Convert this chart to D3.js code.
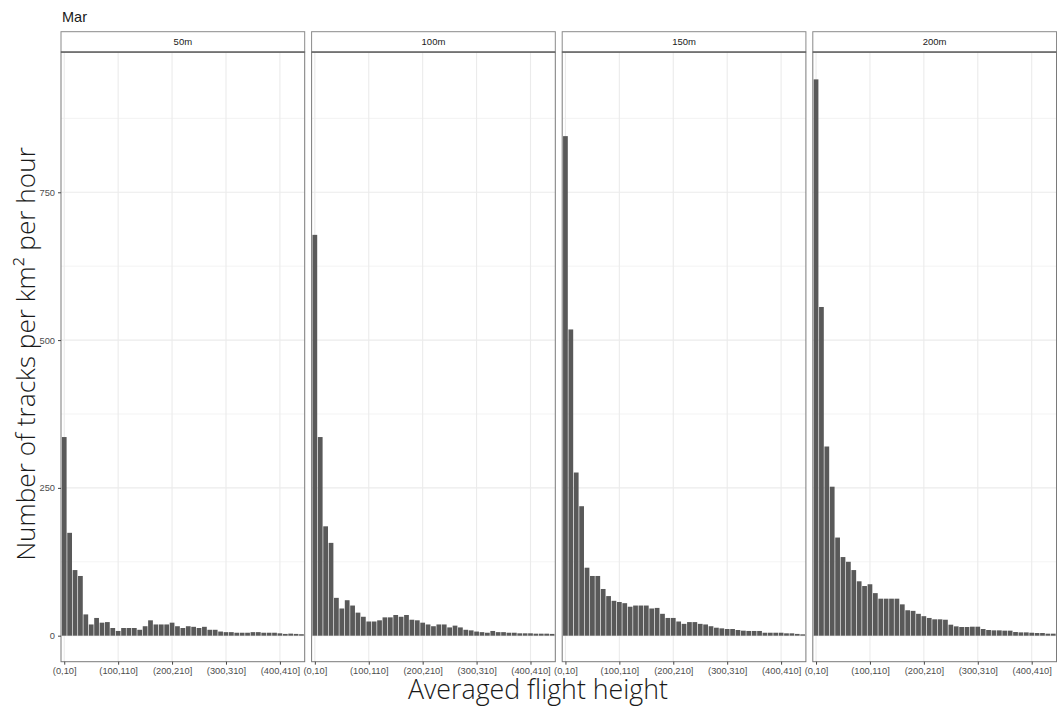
<!DOCTYPE html>
<html>
<head>
<meta charset="utf-8">
<script src="https://cdn.jsdelivr.net/npm/d3@7"></script>
<style>
  html, body { margin: 0; padding: 0; background: #fff; }
  svg { display: block; }
</style>
</head>
<body>
<svg id="chart" width="1057" height="709"></svg>
<script>
// ---------------- data ----------------
const title = "Mar";
const facets = ["50m", "100m", "150m", "200m"];
const categories = [
  "(0,10]","(10,20]","(20,30]","(30,40]","(40,50]","(50,60]","(60,70]","(70,80]","(80,90]","(90,100]",
  "(100,110]","(110,120]","(120,130]","(130,140]","(140,150]","(150,160]","(160,170]","(170,180]","(180,190]","(190,200]",
  "(200,210]","(210,220]","(220,230]","(230,240]","(240,250]","(250,260]","(260,270]","(270,280]","(280,290]","(290,300]",
  "(300,310]","(310,320]","(320,330]","(330,340]","(340,350]","(350,360]","(360,370]","(370,380]","(380,390]","(390,400]",
  "(400,410]","(410,420]","(420,430]","(430,440]","(440,450]"
];
const values50 = [336,174,111,101,36,19,30,22,23,13, 8,13,13,13,10,16,26,19,19,19, 22,16,13,16,15,13,15,10,10,7, 6,6,5,5,5,6,6,5,5,5, 4,3,3.5,3,2.5];
const values100 = [678,336,185,157,64,46,60,51,39,32, 24,24,26,31,31,35,32,35,27,26, 22,19,16,19,19,14,17,14,10,9, 7,6,5,8,6,6,5,5,4,4, 4,3.4,3.4,3.4,3];
const values150 = [845,518,276,219,115,101,101,79,67,59, 57,55,49,51,51,51,46,47,37,30, 30,24,20,23,23,20,19,16,13.5,12.4, 11.3,11.3,9.6,8.5,8,8,8,5,5,5, 5,4,4,3,2.3];
const values200 = [941,556,320,252,166,133,125,111,92,84, 87,72,62.6,62.6,62.6,62.6,53,43,42,37, 33,30,27.7,27.7,27,18.6,15.8,14.7,14.7,15.2, 15.2,11.3,9.6,9,9,8.5,8.5,6.2,5.6,5.6, 5,4.5,4.5,3.4,3.4];
const series = [values50, values100, values150, values200];
const xTickLabels = ["(0,10]","(100,110]","(200,210]","(300,310]","(400,410]"];
const yTicks = [0, 250, 500, 750];
const yMinor = [125, 375, 625, 875];
const xTitle = "Averaged flight height";
const yTitle = "Number of tracks per km\u00B2 per hour";

// ---------------- layout ----------------
const svg = d3.select("#chart");
const panelLeft0 = 61, panelW = 243.7, panelGap = 6.9;
const stripTop = 31.7, panelTop = 52, panelBottom = 661.7;
const baseFont = "'Liberation Sans', Arial, Helvetica, sans-serif";
const titleFont = "'Open Sans', 'Noto Sans', sans-serif";

const y = d3.scaleLinear().domain([-44, 987.3]).range([panelBottom, panelTop]);

// title
svg.append("text")
  .attr("x", 62).attr("y", 21.5)
  .attr("font-family", baseFont).attr("font-size", 14.5)
  .attr("fill", "#1a1a1a")
  .text(title);

facets.forEach((name, i) => {
  const left = panelLeft0 + i * (panelW + panelGap);
  const right = left + panelW;
  const x = d3.scalePoint().domain(categories).range([left, right]).padding(0.6);
  const bw = x.step() * 0.88;
  const g = svg.append("g");

  // panel background
  g.append("rect").attr("x", left).attr("y", panelTop)
    .attr("width", panelW).attr("height", panelBottom - panelTop).attr("fill", "#fff");

  // minor horizontal grid
  g.selectAll(".ymin").data(yMinor).join("line")
    .attr("x1", left).attr("x2", right)
    .attr("y1", d => y(d)).attr("y2", d => y(d))
    .attr("stroke", "#f0f0f0").attr("stroke-width", 0.8);
  // major horizontal grid
  g.selectAll(".ymaj").data(yTicks).join("line")
    .attr("x1", left).attr("x2", right)
    .attr("y1", d => y(d)).attr("y2", d => y(d))
    .attr("stroke", "#ebebeb").attr("stroke-width", 1.1);
  // major vertical grid
  g.selectAll(".xmaj").data(xTickLabels).join("line")
    .attr("x1", d => x(d)).attr("x2", d => x(d))
    .attr("y1", panelTop).attr("y2", panelBottom)
    .attr("stroke", "#ebebeb").attr("stroke-width", 1.1);

  // bars
  const vals = series[i];
  g.selectAll(".bar").data(categories.map((c, k) => ({c, v: vals[k]}))).join("rect")
    .attr("x", d => x(d.c) - bw / 2)
    .attr("width", bw)
    .attr("y", d => y(d.v))
    .attr("height", d => y(0) - y(d.v))
    .attr("fill", "#595959");

  // panel border
  g.append("rect").attr("x", left).attr("y", panelTop)
    .attr("width", panelW).attr("height", panelBottom - panelTop)
    .attr("fill", "none").attr("stroke", "#7a7a7a").attr("stroke-width", 1);

  // strip
  g.append("rect").attr("x", left).attr("y", stripTop)
    .attr("width", panelW).attr("height", panelTop - stripTop)
    .attr("fill", "#fff").attr("stroke", "#8a8a8a").attr("stroke-width", 1);
  g.append("line").attr("x1", left).attr("x2", right)
    .attr("y1", panelTop).attr("y2", panelTop)
    .attr("stroke", "#444").attr("stroke-width", 1);
  g.append("text")
    .attr("x", (left + right) / 2).attr("y", (stripTop + panelTop) / 2 + 3.3)
    .attr("text-anchor", "middle")
    .attr("font-family", baseFont).attr("font-size", 9.5)
    .attr("fill", "#1a1a1a")
    .text(name);

  // x axis
  const xAxis = d3.axisBottom(x).tickValues(xTickLabels).tickSize(3).tickPadding(2.5);
  const ax = svg.append("g").attr("transform", `translate(0,${panelBottom})`).call(xAxis);
  ax.select(".domain").remove();
  ax.selectAll(".tick line").attr("stroke", "#444");
  ax.selectAll(".tick text").attr("font-family", baseFont).attr("font-size", 9.3).attr("fill", "#4d4d4d");

  // y axis on first panel
  if (i === 0) {
    const yAxis = d3.axisLeft(y).tickValues(yTicks).tickSize(3).tickPadding(3);
    const ay = svg.append("g").attr("transform", `translate(${left},0)`).call(yAxis);
    ay.select(".domain").remove();
    ay.selectAll(".tick line").attr("stroke", "#444");
    ay.selectAll(".tick text").attr("font-family", baseFont).attr("font-size", 9.3).attr("fill", "#4d4d4d");
  }
});

// axis titles, sized to match the reference widths
function fitText(sel, target) {
  const len = sel.node().getComputedTextLength();
  const fs = parseFloat(sel.attr("font-size"));
  sel.attr("font-size", fs * target / len);
}
const xt = svg.append("text")
  .attr("x", 538).attr("y", 699)
  .attr("text-anchor", "middle")
  .attr("font-family", titleFont).attr("font-weight", 300).attr("font-size", 22)
  .attr("fill", "#1a1a1a")
  .text(xTitle);
fitText(xt, 260);

const yt = svg.append("text")
  .attr("transform", "translate(35,354) rotate(-90)")
  .attr("text-anchor", "middle")
  .attr("font-family", titleFont).attr("font-weight", 300).attr("font-size", 22)
  .attr("fill", "#1a1a1a")
  .text(yTitle);
fitText(yt, 414);
</script>
</body>
</html>
